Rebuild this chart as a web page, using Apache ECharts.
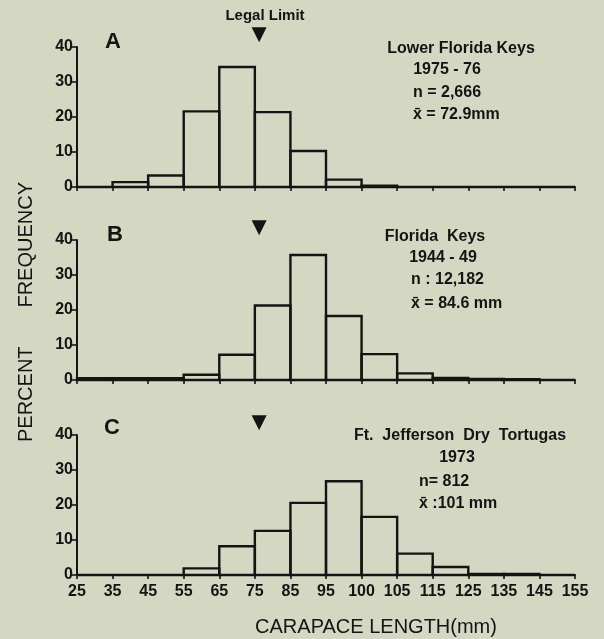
<!DOCTYPE html>
<html>
<head>
<meta charset="utf-8">
<script src="https://cdn.jsdelivr.net/npm/echarts@6/dist/echarts.min.js"></script>
<style>
  html, body { margin: 0; padding: 0; background: #d4d8c3; }
  #chart { width: 604px; height: 639px; }
</style>
</head>
<body>
<div id="chart"></div>
<script>
// Size-class edges along the carapace-length axis, as printed under the bottom panel
const tickLabels = ['25', '35', '45', '55', '65', '75', '85', '95', '100', '105', '115', '125', '135', '145', '155'];

// Percent frequency in each of the 14 classes between those edges
const lowerKeys7576   = [0, 1.4, 3.3, 21.6, 34.3, 21.4, 10.3, 2.1, 0.4, 0, 0, 0, 0, 0];
const floridaKeys4449 = [0.5, 0.5, 0.5, 1.5, 7.2, 21.3, 35.7, 18.3, 7.4, 1.9, 0.6, 0.3, 0.2, 0];
const tortugas1973    = [0, 0, 0, 1.9, 8.2, 12.6, 20.6, 26.8, 16.6, 6.1, 2.3, 0.3, 0.3, 0];

const yTickValues = [0, 10, 20, 30, 40];

// Legal minimum size, placed on the class-edge scale (first edge 25 mm, 10 mm classes)
const legalLimitMm = 76.2;
const firstEdgeMm = 25;
const classWidthMm = 10;

const panelLetters = ['A', 'B', 'C'];
const panelNotes = [
  ['Lower Florida Keys', '1975 - 76', 'n = 2,666', 'x\u0304 = 72.9mm'],
  ['Florida  Keys', '1944 - 49', 'n : 12,182', 'x\u0304 = 84.6 mm'],
  ['Ft.  Jefferson  Dry  Tortugas', '1973', 'n= 812', 'x\u0304 :101 mm']
];
const panelSeries = [lowerKeys7576, floridaKeys4449, tortugas1973];

// ---- layout ----
const ink = '#141414';
const font = '"Liberation Sans", Arial, Helvetica, sans-serif';
const gridLeft = 77, gridRight = 29;
const gridTops = [47, 240, 435];
const gridHeight = 140;
const yMax = yTickValues[yTickValues.length - 1];
const markerY = 43.5;

const chart = echarts.init(document.getElementById('chart'), null, { renderer: 'canvas' });

const grids = [], xAxes = [], yAxes = [], series = [];
panelSeries.forEach((vals, i) => {
  grids.push({ left: gridLeft, right: gridRight, top: gridTops[i], height: gridHeight });
  xAxes.push({
    type: 'value', gridIndex: i, min: 0, max: tickLabels.length - 1, interval: 1,
    axisLine: { show: true, onZero: false, lineStyle: { color: ink, width: 2 } },
    axisTick: { show: true, length: 4, lineStyle: { color: ink, width: 1.6 } },
    axisLabel: {
      show: i === panelSeries.length - 1, margin: 9,
      formatter: v => tickLabels[v] || '',
      color: ink, fontSize: 16, fontWeight: 'bold', fontFamily: font
    },
    splitLine: { show: false }
  });
  yAxes.push({
    type: 'value', gridIndex: i, min: 0, max: yMax, interval: yTickValues[1] - yTickValues[0],
    axisLine: { show: true, lineStyle: { color: ink, width: 2 } },
    axisTick: { show: true, length: 5, lineStyle: { color: ink, width: 1.6 } },
    axisLabel: { margin: 4, color: ink, fontSize: 16, fontWeight: 'bold', fontFamily: font },
    splitLine: { show: false }
  });
  // Histogram: one outlined rectangle per size class
  series.push({
    type: 'custom', xAxisIndex: i, yAxisIndex: i,
    data: vals.map((v, k) => [k, v]),
    renderItem: (params, api) => {
      const k = api.value(0), v = api.value(1);
      const p0 = api.coord([k, 0]);
      const p1 = api.coord([k + 1, v]);
      return {
        type: 'rect',
        shape: { x: p0[0], y: p1[1], width: p1[0] - p0[0], height: p0[1] - p1[1] },
        style: { fill: 'none', stroke: ink, lineWidth: 2.4 }
      };
    },
    silent: true
  });
  // Legal-limit marker above each panel
  series.push({
    type: 'scatter', xAxisIndex: i, yAxisIndex: i, clip: false, silent: true,
    symbol: 'path://M0,0L10,0L5,10Z', symbolSize: [15, 15],
    itemStyle: { color: ink, opacity: 1 },
    data: [[(legalLimitMm - firstEdgeMm) / classWidthMm, markerY]]
  });
});

function txt(text, x, y, size, weight, align, extra) {
  return Object.assign({
    type: 'text', x: x, y: y, silent: true,
    style: {
      text: text, fill: ink, font: (weight || 'normal') + ' ' + size + 'px ' + font,
      textAlign: align || 'center', align: align || 'center',
      textVerticalAlign: 'middle', verticalAlign: 'middle'
    }
  }, extra || {});
}

const graphics = [];
graphics.push(txt('Legal Limit', 265, 16, 15, 'bold'));
// panel letters
[[113, 42], [115, 235], [112, 428]].forEach((p, i) => graphics.push(txt(panelLetters[i], p[0], p[1], 22, 'bold')));
// sample notes
const notePos = [
  [[461, 49, 'center'], [447, 70, 'center'], [413, 93, 'left'], [413, 115, 'left']],
  [[435, 237, 'center'], [443, 258, 'center'], [411, 280, 'left'], [411, 304, 'left']],
  [[460, 436, 'center'], [457, 458, 'center'], [419, 482, 'left'], [419, 504, 'left']]
];
panelNotes.forEach((lines, i) => {
  lines.forEach((line, j) => {
    const p = notePos[i][j];
    graphics.push(txt(line, p[0], p[1], 16, 'bold', p[2]));
  });
});
// axis titles
graphics.push(txt('PERCENT       FREQUENCY', 26, 312, 20, 'normal', 'center', { rotation: Math.PI / 2 }));
graphics.push(txt('CARAPACE LENGTH(mm)', 376, 627, 20, 'normal'));

chart.setOption({
  backgroundColor: '#d4d8c3',
  animation: false,
  grid: grids,
  xAxis: xAxes,
  yAxis: yAxes,
  series: series,
  graphic: graphics
});
</script>
</body>
</html>
